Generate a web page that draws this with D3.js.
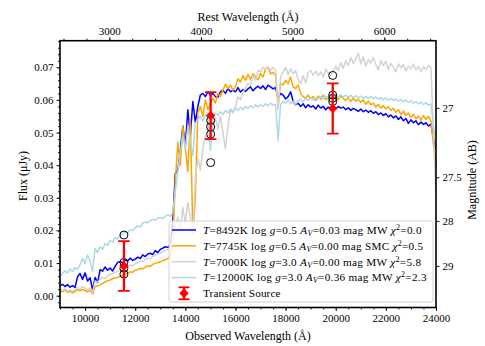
<!DOCTYPE html>
<meta charset="utf-8">
<script src="https://d3js.org/d3.v7.min.js"></script>
<style>
  body { margin: 0; background: #fff; }
  text { font-family: "Liberation Serif", "DejaVu Serif", serif; fill: #000; }
</style>
<div id="chart"></div>
<script>

// observed-frame wavelength grid of the model spectra (Angstrom)
var waveStart = 9000, waveStep = 100;
var redshift = 2.656;

// model spectra, flux in nJy (= 0.001 uJy), one value per 100 A from 9000 to 24000
var fluxBlue = [
  3.0, 3.5, 2.8, 3.4, 2.6, 3.1, 2.5, 5.8, 6.8, 5.0,
  7.0, 4.5, 5.5, 1.8, 5.6, 4.0, 8.0, 7.5, 8.8, 7.8,
  8.5, 7.6, 9.0, 10.2, 10.5, 10.0, 11.0, 10.6, 11.5, 10.8,
  11.2, 11.8, 11.4, 12.5, 12.0, 12.8, 13.0, 12.6, 13.8, 13.2,
  14.2, 14.6, 15.0, 14.8, 15.5, 22.5, 37.5, 38.5, 44.5, 52.0,
  46.0, 57.0, 49.0, 59.5, 53.0, 58.0, 61.5, 62.0, 61.0, 62.5,
  61.5, 62.0, 61.0, 60.8, 62.5, 63.0, 62.0, 63.5, 62.5, 63.0,
  62.5, 63.8, 62.4, 63.2, 62.6, 63.4, 64.0, 62.8, 63.6, 64.2,
  63.5, 64.3, 63.2, 64.5, 64.0, 63.4, 63.8, 60.5, 62.0, 61.5,
  60.3, 61.0, 62.5, 59.5, 58.5, 59.0, 58.0, 58.8, 57.6, 58.5,
  57.8, 58.2, 57.2, 58.4, 57.5, 58.0, 57.0, 57.8, 57.4, 57.9,
  57.2, 58.0, 57.5, 57.8, 57.0, 57.6, 56.8, 57.4, 57.0, 56.5,
  57.2, 56.4, 56.9, 56.2, 56.7, 55.9, 56.4, 55.5, 56.0, 55.2,
  55.8, 54.8, 55.4, 54.5, 55.1, 54.0, 54.8, 53.6, 54.3, 52.8,
  53.9, 53.0, 53.6, 52.4, 53.2, 52.5, 53.0, 52.0, 52.6, 48.0,
  45.0
];
var fluxOrange = [
  1.5, 1.2, 1.8, 1.0, 1.4, 0.9, 1.3, 1.8, 1.5, 1.9,
  1.6, 1.2, 1.7, 0.6, 2.8, 3.0, 3.3, 3.8, 4.2, 4.6,
  4.8, 5.2, 5.5, 5.6, 6.0, 6.2, 6.5, 6.9, 7.3, 7.2,
  7.8, 8.0, 8.4, 8.2, 8.8, 9.1, 9.0, 9.6, 9.9, 10.2,
  10.3, 10.8, 11.0, 11.4, 11.8, 16.0, 35.0, 47.0, 40.0, 52.0,
  45.0, 38.0, 54.0, 19.0, 30.0, 56.0, 58.0, 55.0, 60.0, 57.0,
  59.0, 60.5, 59.0, 62.0, 61.0, 63.0, 64.8, 63.5, 64.5, 63.0,
  64.0, 66.5, 65.5, 67.5, 66.0, 67.8, 66.4, 68.0, 67.0, 66.2,
  68.2, 67.0, 69.5, 70.0, 68.0, 68.4, 67.5, 58.0, 65.0, 64.6,
  66.0, 65.0, 67.0, 64.0, 63.5, 64.6, 62.0, 61.0, 60.5, 61.5,
  60.4, 61.0, 59.8, 61.2, 60.2, 61.5, 60.0, 60.8, 61.5, 60.2,
  61.0, 60.0, 61.3, 60.4, 59.8, 60.8, 59.5, 60.5, 59.6, 60.2,
  59.3, 60.0, 58.7, 59.6, 58.5, 59.0, 57.8, 58.6, 57.5, 58.2,
  57.2, 57.9, 56.8, 57.4, 56.2, 57.0, 55.5, 56.6, 55.2, 56.0,
  54.6, 55.5, 54.2, 55.0, 53.8, 55.2, 54.0, 55.0, 53.5, 46.0,
  40.0
];
var fluxGray = [
  2.0, 1.6, 2.2, 1.4, 1.8, 1.3, 1.9, 2.5, 2.1, 2.8,
  2.3, 1.8, 2.4, 1.0, 4.5, 4.2, 5.0, 5.6, 5.2, 6.2,
  6.5, 6.8, 7.2, 7.5, 7.9, 8.2, 8.5, 8.8, 9.4, 9.2,
  9.8, 10.1, 10.6, 10.4, 11.2, 11.5, 11.3, 12.0, 12.4, 12.8,
  13.0, 13.5, 13.8, 14.2, 14.6, 18.5, 21.0, 24.0, 20.0, 27.0,
  22.0, 28.5, 24.0, 19.0, 36.0, 42.0, 38.5, 45.0, 49.0, 47.5,
  50.0, 52.0, 54.5, 51.0, 55.0, 50.0, 45.0, 52.0, 57.0, 56.0,
  58.0, 61.0, 60.0, 62.5, 63.5, 65.0, 64.5, 67.5, 66.0, 69.0,
  68.6, 70.0, 69.4, 70.2, 69.0, 70.0, 69.2, 57.0, 67.0, 68.5,
  70.0, 67.8, 69.5, 68.0, 69.0, 66.2, 65.0, 67.5, 65.2, 68.4,
  69.0, 67.6, 68.8, 67.4, 68.6, 67.0, 69.5, 68.3, 67.5, 69.0,
  70.3, 69.0, 71.5, 69.6, 72.0, 70.5, 73.0, 71.2, 72.6, 74.4,
  71.0, 73.2, 70.4, 72.4, 71.3, 73.0, 70.8, 69.2, 72.0, 70.5,
  71.8, 69.4, 71.2, 70.0, 68.6, 71.0, 69.8, 70.8, 68.9, 70.4,
  69.5, 71.0, 69.2, 70.3, 68.7, 70.1, 69.3, 70.6, 69.8, 50.0,
  30.0
];
var fluxLightBlue = [
  6.0, 6.8, 7.6, 7.0, 8.2, 7.4, 8.6, 8.0, 9.5, 11.5,
  9.8, 12.5, 10.5, 7.5, 14.5, 13.2, 15.0, 14.2, 16.0, 15.4,
  17.0, 16.4, 17.8, 17.4, 18.4, 19.0, 19.6, 19.2, 20.2, 20.0,
  20.8, 21.4, 21.0, 22.2, 22.6, 22.3, 23.0, 23.4, 23.1, 23.8,
  24.0, 23.6, 24.4, 24.8, 24.4, 25.5, 32.0, 38.0, 44.0, 49.0,
  45.0, 52.0, 47.0, 43.0, 53.0, 54.0, 55.0, 53.5, 55.5, 54.5,
  44.5, 55.0, 56.0, 55.2, 56.4, 55.5, 56.8, 56.0, 57.2, 56.5,
  57.5, 56.8, 57.8, 57.0, 58.0, 57.4, 58.3, 57.6, 58.5, 57.8,
  58.6, 58.0, 58.8, 58.2, 59.0, 58.4, 58.6, 47.5, 58.5, 59.5,
  59.0, 60.0, 58.8, 59.6, 58.6, 59.8, 60.2, 59.4, 60.4, 59.8,
  60.6, 60.0, 60.8, 60.2, 61.0, 60.4, 61.2, 60.6, 61.4, 60.8,
  61.5, 61.0, 61.6, 60.9, 61.5, 60.8, 61.4, 60.7, 61.3, 60.6,
  61.2, 60.5, 61.1, 60.4, 61.0, 60.3, 60.9, 60.2, 60.7, 60.0,
  60.6, 59.9, 60.5, 59.8, 60.3, 59.6, 60.2, 59.4, 60.0, 59.2,
  59.8, 59.0, 59.5, 58.8, 59.3, 58.6, 59.1, 58.4, 58.8, 52.0,
  46.0
];

// transient photometry (uJy)
var photWave = [11550, 15010, 19880];
var photFlux = [0.0091, 0.0552, 0.0574];
var photErr = [0.0076, 0.0072, 0.0077];
// synthetic model photometry, black open circles (uJy)
var modelPhot = [
  [0.0102, 0.0066, 0.0084, 0.0186],
  [0.0537, 0.0517, 0.0408, 0.0495],
  [0.0595, 0.0605, 0.0675, 0.0615]
];

// legend content
var legTemp = ["8492", "7745", "7000", "12000"];
var legLogg = ["0.5", "0.5", "3.0", "3.0"];
var legAv = ["0.03", "0.00", "0.00", "0.36"];
var legLaw = ["MW", "SMC", "MW", "MW"];
var legChi2 = ["0.0", "0.5", "5.8", "2.3"];
var colors = ["#0000ff", "#ffa500", "#d3d3d3", "#add8e6"];

// ticks
var obsTicks = [10000, 12000, 14000, 16000, 18000, 20000, 22000, 24000];
var restTicks = [3000, 4000, 5000, 6000];
var fluxTicks = [0.00, 0.01, 0.02, 0.03, 0.04, 0.05, 0.06, 0.07];
var magTicks = [27, 27.5, 28, 29];

var W = 485, H = 346;
var L = 60, R = 436, T = 40.7, B = 307.5;

var svg = d3.select("#chart").append("svg")
  .attr("width", W).attr("height", H);

var x = d3.scaleLinear().domain([9000, 24000]).range([L, R]);
var xRest = d3.scaleLinear().domain([9000 / (1 + redshift), 24000 / (1 + redshift)]).range([L, R]);
var y = d3.scaleLinear().domain([-0.00362, 0.07815]).range([B, T]);

function magToFlux(m) { return Math.pow(10, (23.9 - m) / 2.5); }

svg.append("clipPath").attr("id", "clip")
  .append("rect").attr("x", L).attr("y", T).attr("width", R - L).attr("height", B - T);

var plot = svg.append("g").attr("clip-path", "url(#clip)");

var series = [fluxBlue, fluxOrange, fluxGray, fluxLightBlue];
var line = d3.line()
  .x(function (d, i) { return x(waveStart + i * waveStep); })
  .y(function (d) { return y(d / 1000); });

plot.selectAll("path.spec")
  .data(series)
  .enter().append("path")
  .attr("class", "spec")
  .attr("d", line)
  .attr("fill", "none")
  .attr("stroke", function (d, i) { return colors[i]; })
  .attr("stroke-width", 1.5)
  .attr("stroke-linejoin", "round");

// model photometry circles
var circ = [];
photWave.forEach(function (w, i) {
  modelPhot[i].forEach(function (f) { circ.push([w, f]); });
});
plot.selectAll("circle.mod")
  .data(circ)
  .enter().append("circle")
  .attr("cx", function (d) { return x(d[0]); })
  .attr("cy", function (d) { return y(d[1]); })
  .attr("r", 4)
  .attr("fill", "none")
  .attr("stroke", "#000")
  .attr("stroke-width", 1);

// transient error bars
var eb = plot.selectAll("g.eb")
  .data(photWave)
  .enter().append("g").attr("class", "eb");
eb.append("line")
  .attr("x1", function (d) { return x(d); }).attr("x2", function (d) { return x(d); })
  .attr("y1", function (d, i) { return y(photFlux[i] - photErr[i]); })
  .attr("y2", function (d, i) { return y(photFlux[i] + photErr[i]); })
  .attr("stroke", "red").attr("stroke-width", 2.3);
[-1, 1].forEach(function (s) {
  eb.append("line")
    .attr("x1", function (d) { return x(d) - 5.8; }).attr("x2", function (d) { return x(d) + 5.8; })
    .attr("y1", function (d, i) { return y(photFlux[i] + s * photErr[i]); })
    .attr("y2", function (d, i) { return y(photFlux[i] + s * photErr[i]); })
    .attr("stroke", "red").attr("stroke-width", 1.8);
});
var diamond = d3.symbol().type(d3.symbolSquare).size(44);
eb.append("path")
  .attr("d", diamond)
  .attr("transform", function (d, i) { return "translate(" + x(d) + "," + y(photFlux[i]) + ") rotate(45)"; })
  .attr("fill", "red");

// axes
function styleAxis(g, size) {
  g.select(".domain").remove();
  g.selectAll(".tick line").attr("stroke", "#000").attr("stroke-width", 0.9);
  g.selectAll(".tick text").attr("font-family", "Liberation Serif, DejaVu Serif, serif")
    .attr("font-size", size || 11).attr("fill", "#000");
}

svg.append("g").attr("transform", "translate(" + L + ",0)")
  .call(d3.axisLeft(y).tickValues(d3.range(-0.002, 0.0781, 0.002)).tickSize(2).tickFormat(""))
  .call(styleAxis);
svg.append("g").attr("transform", "translate(" + L + ",0)")
  .call(d3.axisLeft(y).tickValues(fluxTicks).tickSize(3.5).tickPadding(3).tickFormat(d3.format(".2f")))
  .call(styleAxis);

svg.append("g").attr("transform", "translate(0," + B + ")")
  .call(d3.axisBottom(x).tickValues(d3.range(9000, 24001, 500)).tickSize(2).tickFormat(""))
  .call(styleAxis);
svg.append("g").attr("transform", "translate(0," + B + ")")
  .call(d3.axisBottom(x).tickValues(obsTicks).tickSize(3.5).tickPadding(3).tickFormat(d3.format("d")))
  .call(styleAxis);

svg.append("g").attr("transform", "translate(0," + T + ")")
  .call(d3.axisTop(xRest).tickValues(d3.range(2500, 6600, 250).filter(function (v) { return xRest(v) >= L && xRest(v) <= R; })).tickSize(2).tickFormat(""))
  .call(styleAxis);
svg.append("g").attr("transform", "translate(0," + T + ")")
  .call(d3.axisTop(xRest).tickValues(restTicks).tickSize(3.5).tickPadding(2).tickFormat(d3.format("d")))
  .call(styleAxis);

svg.append("g").attr("transform", "translate(" + R + ",0)")
  .call(d3.axisRight(y).tickValues(magTicks.map(magToFlux)).tickSize(3.5).tickPadding(3)
    .tickFormat(function (d, i) { return magTicks[i]; }))
  .call(styleAxis);

// frame
svg.append("rect")
  .attr("x", L).attr("y", T).attr("width", R - L).attr("height", B - T)
  .attr("fill", "none").attr("stroke", "#000").attr("stroke-width", 1.6);

// axis labels
svg.append("text").attr("x", (L + R) / 2).attr("y", 340).attr("text-anchor", "middle")
  .attr("font-size", 12).text("Observed Wavelength (Å)");
svg.append("text").attr("x", (L + R) / 2).attr("y", 21).attr("text-anchor", "middle")
  .attr("font-size", 12).text("Rest Wavelength (Å)");
svg.append("text").attr("transform", "translate(27,176) rotate(-90)").attr("text-anchor", "middle")
  .attr("font-size", 12).text("Flux (μJy)");
svg.append("text").attr("transform", "translate(476,180) rotate(-90)").attr("text-anchor", "middle")
  .attr("font-size", 12).text("Magnitude (AB)");

// legend
var lg = svg.append("g");
lg.append("rect").attr("x", 169).attr("y", 221).attr("width", 264).attr("height", 81)
  .attr("rx", 2.5).attr("fill", "#fff").attr("fill-opacity", 0.8)
  .attr("stroke", "#cccccc").attr("stroke-width", 0.9);
var rowY = [230, 245.8, 261.7, 277.6, 293.3];
var rowLen = [218.5, 220, 218, 223.5];

legTemp.forEach(function (t, i) {
  lg.append("line").attr("x1", 172).attr("x2", 196).attr("y1", rowY[i]).attr("y2", rowY[i])
    .attr("stroke", colors[i]).attr("stroke-width", 1.5);
  var tx = lg.append("text").attr("x", 203).attr("y", rowY[i] + 3.8).attr("font-size", 11.2)
    .attr("textLength", rowLen[i]).attr("lengthAdjust", "spacing");
  tx.append("tspan").attr("font-style", "italic").text("T");
  tx.append("tspan").text("=" + t + "K  log ");
  tx.append("tspan").attr("font-style", "italic").text("g");
  tx.append("tspan").text("=" + legLogg[i] + "  ");
  tx.append("tspan").attr("font-style", "italic").text("A");
  tx.append("tspan").attr("font-style", "italic").attr("font-size", 8).attr("dy", 2).text("V");
  tx.append("tspan").attr("dy", -2).text("=" + legAv[i] + " mag " + legLaw[i] + " ");
  tx.append("tspan").attr("font-style", "italic").text("χ");
  tx.append("tspan").attr("font-size", 8).attr("dy", -4).text("2");
  tx.append("tspan").attr("dy", 4).text("=" + legChi2[i]);
});
var ly = rowY[4];
lg.append("line").attr("x1", 184).attr("x2", 184).attr("y1", ly - 6).attr("y2", ly + 6)
  .attr("stroke", "red").attr("stroke-width", 2.3);
[-6, 6].forEach(function (o) {
  lg.append("line").attr("x1", 178.5).attr("x2", 189.5).attr("y1", ly + o).attr("y2", ly + o)
    .attr("stroke", "red").attr("stroke-width", 1.8);
});
lg.append("path").attr("d", diamond).attr("transform", "translate(184," + ly + ") rotate(45)").attr("fill", "red");
lg.append("text").attr("x", 203).attr("y", ly + 3.8).attr("font-size", 11.2)
  .attr("textLength", 77.5).attr("lengthAdjust", "spacing").text("Transient Source");

</script>
